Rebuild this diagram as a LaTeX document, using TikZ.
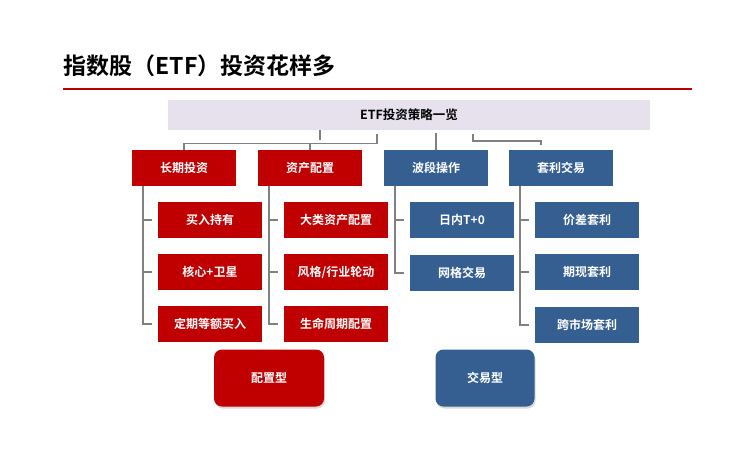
\documentclass[tikz,border=0pt]{standalone}
\usepackage{fontspec}
\setmainfont{Noto Sans CJK SC}[BoldFont={* Bold}]
\usetikzlibrary{shadows}
\definecolor{rd}{HTML}{C00000}
\definecolor{bl}{HTML}{365F91}
\definecolor{hd}{HTML}{E6E1EC}
\definecolor{gl}{HTML}{808080}
\begin{document}
\begin{tikzpicture}[x=1pt,y=-1pt,
  bx/.style={minimum width=104pt,minimum height=36pt,inner sep=0pt,text=white,font=\bfseries\fontsize{12}{13}\selectfont},
  rb/.style={bx,fill=rd},
  bb/.style={bx,fill=bl},
  big/.style={rounded corners=8pt,minimum width=#1,minimum height=57pt,inner sep=0pt,text=white,font=\bfseries\fontsize{12}{13}\selectfont,drop shadow={opacity=0.3,shadow xshift=1pt,shadow yshift=-2pt}},
  ln/.style={draw=gl,line width=1.2pt}]
\useasboundingbox (0,0) rectangle (749,458);
\node[anchor=west,font=\bfseries\fontsize{23}{25}\selectfont] (t) at (60,66) {指数股（ETF）投资花样多};
\draw[draw=rd,line width=1.4pt] (63,89) -- (692,89);
\node[fill=hd,minimum width=482pt,minimum height=30pt,inner sep=0pt,font=\bfseries\fontsize{12.5}{13}\selectfont] (h) at (409,115) {ETF投资策略一览};
\node[rb] (a) at (184,168) {长期投资};
\node[rb] (b) at (310,168) {资产配置};
\node[bb] (c) at (436,168) {波段操作};
\node[bb] (d) at (561,168) {套利交易};
\node[rb] (a1) at (210,220) {买入持有};
\node[rb] (a2) at (210,272) {核心+卫星};
\node[rb] (a3) at (210,324) {定期等额买入};
\node[rb] (b1) at (336,220) {大类资产配置};
\node[rb] (b2) at (336,272) {风格/行业轮动};
\node[rb] (b3) at (336,324) {生命周期配置};
\node[bb] (c1) at (462,220) {日内T+0};
\node[bb] (c2) at (462,273) {网格交易};
\node[bb] (d1) at (587,220) {价差套利};
\node[bb] (d2) at (587,272) {期现套利};
\node[bb] (d3) at (587,325) {跨市场套利};
\node[big=110pt,fill=rd] (p) at (269,378) {配置型};
\node[big=99pt,fill=bl] (q) at (485,378) {交易型};
% top brackets
\draw[ln] (320,130) -- (320,140);
\draw[ln] (a.north) -- ++(0,-6) -| (377,134);
\draw[ln] (b.north) -- ++(0,-6);
\draw[ln] (c.north) -- (436,133);
\draw[ln] (473,134) |- (541,141) -- (541,145);
% child connectors
\foreach \p/\x/\e in {a/143/a3,b/269/b3,c/395/c2,d/520/d3}{
  \draw[ln] (\x,186) |- ([xshift=-6pt]\e.west);
}
\foreach \x/\n in {143/a1,143/a2,269/b1,269/b2,395/c1,520/d1,520/d2}{
  \draw[ln] (\x,0 |- \n.west) -- ([xshift=-6pt]\n.west);
}
\end{tikzpicture}
\end{document}
